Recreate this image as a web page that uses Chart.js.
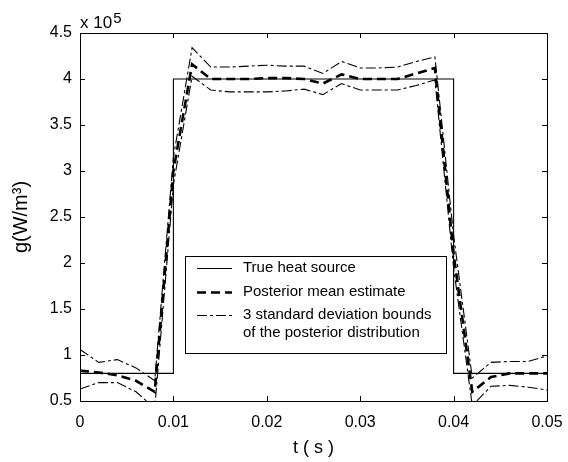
<!DOCTYPE html>
<html>
<head>
<meta charset="utf-8">
<script src="https://cdn.jsdelivr.net/npm/chart.js@4.4.1/dist/chart.umd.min.js"></script>
<style>
  html, body { margin: 0; padding: 0; background: #ffffff; }
  #wrap { width: 568px; height: 462px; }
</style>
</head>
<body>
<div id="wrap"><canvas id="c" width="568" height="462"></canvas></div>
<script>
// ---- data (g in units of 1e5 W/m^3) ----
const timeS = [0, 0.002, 0.004, 0.006, 0.008, 0.010, 0.012, 0.014, 0.016, 0.018, 0.020, 0.022, 0.024,
               0.026, 0.028, 0.030, 0.032, 0.034, 0.036, 0.038, 0.040, 0.042, 0.044, 0.046, 0.048, 0.050];
const meanEstimate = [0.83, 0.81, 0.78, 0.72, 0.60, 3.00, 4.16, 4.00, 4.00, 4.00, 4.01, 4.01, 4.00,
                      3.95, 4.05, 4.00, 4.00, 4.00, 4.06, 4.12, 2.10, 0.60, 0.76, 0.80, 0.80, 0.80];
const upperBound = [1.06, 0.92, 0.95, 0.86, 0.72, 3.15, 4.34, 4.13, 4.13, 4.14, 4.15, 4.14, 4.14,
                    4.06, 4.19, 4.12, 4.12, 4.13, 4.19, 4.24, 2.30, 0.75, 0.92, 0.93, 0.93, 0.99];
const lowerBound = [0.63, 0.70, 0.70, 0.60, 0.42, 2.85, 4.03, 3.88, 3.86, 3.86, 3.86, 3.87, 3.89,
                    3.83, 3.95, 3.88, 3.88, 3.88, 3.93, 3.99, 1.95, 0.45, 0.66, 0.67, 0.65, 0.62];
const trueTime = [0, 0.01, 0.01, 0.04, 0.04, 0.05];
const trueSource = [0.8, 0.8, 4.0, 4.0, 0.8, 0.8];
const legendLabels = ['True heat source', 'Posterior mean estimate',
                      ['3 standard deviation bounds', 'of the posterior distribution']];
const xTicks = [0, 0.01, 0.02, 0.03, 0.04, 0.05];
const yTicks = [0.5, 1, 1.5, 2, 2.5, 3, 3.5, 4, 4.5];

const pts = (xs, ys) => xs.map((x, i) => ({ x: x, y: ys[i] }));
const FONT = "'Liberation Sans', Arial, sans-serif";
const DASH_MEAN = [9, 5];
const DASH_BOUND = [10, 3, 3, 3];

const framePlugin = {
  id: 'frame',
  beforeDraw(chart) {
    const ctx = chart.ctx;
    ctx.save();
    ctx.fillStyle = '#ffffff';
    ctx.fillRect(0, 0, chart.width, chart.height);
    ctx.restore();
  },
  afterDraw(chart) {
    const ctx = chart.ctx;
    const a = chart.chartArea;
    const xs = chart.scales.x, ys = chart.scales.y;
    ctx.save();
    ctx.strokeStyle = '#000';
    ctx.lineWidth = 1;
    ctx.setLineDash([]);
    ctx.strokeRect(Math.round(a.left) + 0.5, Math.round(a.top) + 0.5,
                   Math.round(a.right - a.left), Math.round(a.bottom - a.top));
    const TL = 5;
    ctx.beginPath();
    xTicks.forEach(v => {
      const px = Math.round(xs.getPixelForValue(v)) + 0.5;
      ctx.moveTo(px, a.bottom); ctx.lineTo(px, a.bottom - TL);
      ctx.moveTo(px, a.top); ctx.lineTo(px, a.top + TL);
    });
    yTicks.forEach(v => {
      const py = Math.round(ys.getPixelForValue(v)) + 0.5;
      ctx.moveTo(a.left, py); ctx.lineTo(a.left + TL, py);
      ctx.moveTo(a.right, py); ctx.lineTo(a.right - TL, py);
    });
    ctx.stroke();

    // exponent label
    ctx.fillStyle = '#000';
    ctx.textBaseline = 'alphabetic';
    ctx.textAlign = 'left';
    ctx.font = '17px ' + FONT;
    ctx.fillText('x 10', a.left, a.top - 5);
    const w = ctx.measureText('x 10').width;
    ctx.font = '15px ' + FONT;
    ctx.fillText('5', a.left + w + 1, a.top - 10);

    // legend
    const bx = 185.5, by = 256.5, bw = 261, bh = 97;
    ctx.fillStyle = '#fff';
    ctx.fillRect(bx, by, bw, bh);
    ctx.strokeStyle = '#000';
    ctx.lineWidth = 1;
    ctx.strokeRect(bx, by, bw, bh);
    const ds = chart.data.datasets;
    const rows = [268, 292, 315];
    ctx.font = '15px ' + FONT;
    ctx.textBaseline = 'middle';
    [0, 1, 2].forEach((di, r) => {
      const d = ds[di];
      ctx.beginPath();
      ctx.setLineDash(d.borderDash || []);
      ctx.lineWidth = d.borderWidth;
      ctx.strokeStyle = d.borderColor;
      ctx.moveTo(197, rows[r] + 0.5);
      ctx.lineTo(232, rows[r] + 0.5);
      ctx.stroke();
      ctx.setLineDash([]);
      ctx.fillStyle = '#000';
      const lab = legendLabels[r];
      if (Array.isArray(lab)) {
        ctx.fillText(lab[0], 243, rows[r]);
        ctx.fillText(lab[1], 243, rows[r] + 18);
      } else {
        ctx.fillText(lab, 243, rows[r]);
      }
    });
    ctx.restore();
  }
};

new Chart(document.getElementById('c'), {
  type: 'line',
  data: {
    datasets: [
      { label: legendLabels[0], data: pts(trueTime, trueSource), borderColor: '#000', borderWidth: 1.1,
        pointRadius: 0, fill: false, tension: 0 },
      { label: legendLabels[1], data: pts(timeS, meanEstimate), borderColor: '#000', borderWidth: 2.6,
        borderDash: DASH_MEAN, pointRadius: 0, fill: false, tension: 0 },
      { label: legendLabels[2][0], data: pts(timeS, upperBound), borderColor: '#000', borderWidth: 1.1,
        borderDash: DASH_BOUND, pointRadius: 0, fill: false, tension: 0 },
      { label: 'lower', data: pts(timeS, lowerBound), borderColor: '#000', borderWidth: 1.1,
        borderDash: DASH_BOUND, pointRadius: 0, fill: false, tension: 0 }
    ]
  },
  options: {
    responsive: false,
    animation: false,
    devicePixelRatio: 1,
    layout: { padding: { top: 33, right: 21, left: 0, bottom: 0 } },
    plugins: { legend: { display: false }, tooltip: { enabled: false } },
    scales: {
      x: {
        type: 'linear', min: 0, max: 0.05,
        grid: { display: false, drawTicks: false },
        border: { display: false },
        afterFit: s => { s.height = 61; s.paddingLeft = 0; s.paddingRight = 0; },
        afterBuildTicks: s => { s.ticks = xTicks.map(v => ({ value: v })); },
        ticks: { autoSkip: false, maxRotation: 0, padding: 12, color: '#000',
                 font: { family: FONT, size: 16 },
                 callback: v => String(parseFloat(Number(v).toFixed(4))) },
        title: { display: true, text: 't ( s )', color: '#000', padding: { top: 0, bottom: 3 },
                 font: { family: FONT, size: 18 } }
      },
      y: {
        type: 'linear', min: 0.5, max: 4.5,
        grid: { display: false, drawTicks: false },
        border: { display: false },
        afterFit: s => { s.width = 80; s.paddingTop = 0; s.paddingBottom = 0; },
        afterBuildTicks: s => { s.ticks = yTicks.map(v => ({ value: v })); },
        ticks: { autoSkip: false, padding: 8, color: '#000',
                 font: { family: FONT, size: 16 },
                 callback: v => String(parseFloat(Number(v).toFixed(4))) },
        title: { display: true, text: 'g(W/m³)', color: '#000', padding: { top: 9, bottom: 0 },
                 font: { family: FONT, size: 20 } }
      }
    }
  },
  plugins: [framePlugin]
});
</script>
</body>
</html>
